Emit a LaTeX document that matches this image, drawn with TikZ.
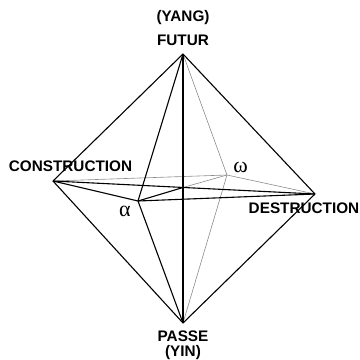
\documentclass[tikz,border=0pt]{standalone}
\usepackage{fontspec}
\setmainfont{Liberation Sans}
\newfontfamily\greekfont{Liberation Serif}
\begin{document}
\begin{tikzpicture}
  [x=1pt,y=-1pt,
   every node/.style={inner sep=0pt,font=\bfseries\fontsize{15.3}{16}\selectfont},
   greek/.style={font=\greekfont\fontsize{22}{22}\selectfont},
   front/.style={line width=1.1pt,line join=round},
   back/.style={line width=0.6pt,black!45}]
  \useasboundingbox (0,0) rectangle (360,360);
  \coordinate (top) at (183,54);
  \coordinate (bot) at (183,323);
  \coordinate (cons) at (53,181);
  \coordinate (dest) at (315,194);
  \coordinate (al) at (138,201);
  \coordinate (om) at (227,175);
  \coordinate (mid) at (183,187.5);

  \node (yang)  at (183,18)  {(YANG)};
  \node (futur) at (183,40)  {FUTUR};
  \node (lcons) at (70.5,166) {CONSTRUCTION};
  \node (ldest) at (304,208) {DESTRUCTION};
  \node (passe) at (183,336) {PASSE};
  \node (yin)   at (183,353) {(YIN)};
  \node[greek] (lal) at (125,211) {α};
  \node[greek] (lom) at (240.5,167.5) {ω};

\foreach \from/\to in
{top/om, bot/om, cons/om, om/dest, mid/om}
    \draw[back] (\from) -- (\to);
\foreach \from/\to in
{top/cons, top/dest, bot/cons, bot/dest, top/al, bot/al, cons/al, al/dest, top/bot, cons/dest, al/mid}
    \draw[front] (\from) -- (\to);
\end{tikzpicture}
\end{document}
